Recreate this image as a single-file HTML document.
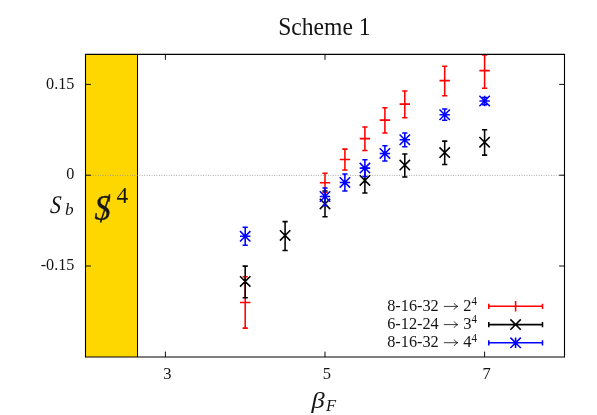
<!DOCTYPE html>
<html><head><meta charset="utf-8"><title>Scheme 1</title>
<style>
html,body{margin:0;padding:0;background:#fff;}
svg{display:block;will-change:transform;}
text{font-family:"Liberation Serif",serif;fill:#141414;}
.i{font-style:italic;}
</style></head><body>
<svg width="597" height="415" viewBox="0 0 597 415">
<rect x="0" y="0" width="597" height="415" fill="#fff"/>
<rect x="85.5" y="54.4" width="52.0" height="302.6" fill="#ffd700"/>
<path d="M137.5 54.4V357.0" stroke="#000" stroke-width="1" fill="none"/>
<path d="M85.5 175.4H564.5" stroke="#8c8c8c" stroke-width="0.8" stroke-dasharray="0.9 1.55" fill="none"/>
<text transform="translate(324.4 35.1) scale(1.0 1.04)" font-size="23.6" text-anchor="middle">Scheme 1</text>
<text transform="translate(74.4 88.5) scale(1.0 1.07)" font-size="16.2" text-anchor="end">0.15</text>
<text transform="translate(74.4 179.3) scale(1.0 1.07)" font-size="16.2" text-anchor="end">0</text>
<text transform="translate(74.4 270.0) scale(1.0 1.07)" font-size="16.2" text-anchor="end">-0.15</text>
<text transform="translate(167.3 379.4) scale(1.0 1.04)" font-size="16.5" text-anchor="middle">3</text>
<text transform="translate(326.9 379.4) scale(1.0 1.04)" font-size="16.5" text-anchor="middle">5</text>
<text transform="translate(486.5 379.4) scale(1.0 1.04)" font-size="16.5" text-anchor="middle">7</text>
<text transform="translate(49.7 212.5) skewX(-5) scale(0.86 1.02)" font-size="25" class="i">S</text>
<text transform="translate(64.9 214.8) scale(1.02 0.93)" font-size="17" class="i">b</text>
<text transform="translate(311.5 408) scale(1.15 1)" font-size="23" class="i">β</text>
<text x="325.9" y="410.5" font-size="16.5" class="i">F</text>
<text transform="translate(94.6 219.6) scale(0.9 1)" font-size="36" class="i" stroke="#1a1a1a" stroke-width="0.35">S</text>
<path d="M109.7 194.2L100.5 222.6" stroke="#1a1a1a" stroke-width="1.6" fill="none"/>
<text transform="translate(116.4 203.4) scale(1.0 0.955)" font-size="23.4">4</text>
<path d="M165.4 357.0V351.6M165.4 54.4V59.8M325.0 357.0V351.6M325.0 54.4V59.8M484.6 357.0V351.6M484.6 54.4V59.8M85.5 84.4H90.9M564.5 84.4H559.1M85.5 175.2H90.9M564.5 175.2H559.1M85.5 266.0H90.9M564.5 266.0H559.1" stroke="#000" stroke-width="0.95" fill="none"/>
<path d="M245.20 276.80V328.10M242.60 276.80H247.80M242.60 328.10H247.80M240.00 302.50H250.40M245.20 297.30V307.70M325.00 173.30V192.40M322.40 173.30H327.60M322.40 192.40H327.60M319.80 182.80H330.20M325.00 177.60V188.00M344.90 149.10V170.00M342.30 149.10H347.50M342.30 170.00H347.50M339.70 159.40H350.10M344.90 154.20V164.60M364.90 126.90V150.40M362.30 126.90H367.50M362.30 150.40H367.50M359.70 138.60H370.10M364.90 133.40V143.80M384.90 107.70V133.00M382.30 107.70H387.50M382.30 133.00H387.50M379.70 120.10H390.10M384.90 114.90V125.30M404.80 90.90V117.70M402.20 90.90H407.40M402.20 117.70H407.40M399.60 104.10H410.00M404.80 98.90V109.30M444.70 66.30V95.80M442.10 66.30H447.30M442.10 95.80H447.30M439.50 80.60H449.90M444.70 75.40V85.80M484.60 55.00V88.15M482.00 55.00H487.20M482.00 88.15H487.20M479.40 70.60H489.80M484.60 65.40V75.80" stroke="#ff0000" stroke-width="1.55" fill="none"/>
<path d="M245.20 266.10V297.80M242.60 266.10H247.80M242.60 297.80H247.80M240.00 276.20L250.40 286.60M240.00 286.60L250.40 276.20M285.10 221.60V250.50M282.50 221.60H287.70M282.50 250.50H287.70M279.90 230.20L290.30 240.60M279.90 240.60L290.30 230.20M325.00 191.00V216.80M322.40 191.00H327.60M322.40 216.80H327.60M319.80 198.70L330.20 209.10M319.80 209.10L330.20 198.70M364.90 167.80V193.00M362.30 167.80H367.50M362.30 193.00H367.50M359.70 175.20L370.10 185.60M359.70 185.60L370.10 175.20M404.80 153.90V177.00M402.20 153.90H407.40M402.20 177.00H407.40M399.60 159.90L410.00 170.30M399.60 170.30L410.00 159.90M444.70 141.10V164.50M442.10 141.10H447.30M442.10 164.50H447.30M439.50 147.40L449.90 157.80M439.50 157.80L449.90 147.40M484.60 129.70V155.10M482.00 129.70H487.20M482.00 155.10H487.20M479.40 137.00L489.80 147.40M479.40 147.40L489.80 137.00" stroke="#000000" stroke-width="1.55" fill="none"/>
<path d="M245.20 227.30V245.30M242.60 227.30H247.80M242.60 245.30H247.80M240.00 236.30H250.40M245.20 231.10V241.50M240.00 231.10L250.40 241.50M240.00 241.50L250.40 231.10M325.00 187.90V205.50M322.40 187.90H327.60M322.40 205.50H327.60M319.80 196.50H330.20M325.00 191.30V201.70M319.80 191.30L330.20 201.70M319.80 201.70L330.20 191.30M344.90 173.90V190.90M342.30 173.90H347.50M342.30 190.90H347.50M339.70 182.40H350.10M344.90 177.20V187.60M339.70 177.20L350.10 187.60M339.70 187.60L350.10 177.20M364.90 159.80V176.40M362.30 159.80H367.50M362.30 176.40H367.50M359.70 168.10H370.10M364.90 162.90V173.30M359.70 162.90L370.10 173.30M359.70 173.30L370.10 162.90M384.90 145.80V161.00M382.30 145.80H387.50M382.30 161.00H387.50M379.70 153.40H390.10M384.90 148.20V158.60M379.70 148.20L390.10 158.60M379.70 158.60L390.10 148.20M404.80 132.95V146.80M402.20 132.95H407.40M402.20 146.80H407.40M399.60 139.75H410.00M404.80 134.55V144.95M399.60 134.55L410.00 144.95M399.60 144.95L410.00 134.55M444.70 108.90V120.20M442.10 108.90H447.30M442.10 120.20H447.30M439.50 114.75H449.90M444.70 109.55V119.95M439.50 109.55L449.90 119.95M439.50 119.95L449.90 109.55M484.60 97.40V104.60M482.00 97.40H487.20M482.00 104.60H487.20M479.40 101.00H489.80M484.60 95.80V106.20M479.40 95.80L489.80 106.20M479.40 106.20L489.80 95.80" stroke="#0000ff" stroke-width="1.55" fill="none"/>
<text transform="translate(387.2 310.6) scale(1.0 1.04)" font-size="16.3">8-16-32</text><path d="M443.8 306.40H457.4M454.1 303.20Q455.2 305.60 457.8 306.40Q455.2 307.20 454.1 309.60" stroke="#1a1a1a" stroke-width="0.85" fill="none"/><text transform="translate(463.3 310.6) scale(1.0 1.04)" font-size="16.5">2</text><text transform="translate(471.5 305.2) scale(1.0 1.04)" font-size="11.0">4</text>
<text transform="translate(387.2 328.8) scale(1.0 1.04)" font-size="16.3">6-12-24</text><path d="M443.8 324.60H457.4M454.1 321.40Q455.2 323.80 457.8 324.60Q455.2 325.40 454.1 327.80" stroke="#1a1a1a" stroke-width="0.85" fill="none"/><text transform="translate(463.3 328.8) scale(1.0 1.04)" font-size="16.5">3</text><text transform="translate(471.5 323.4) scale(1.0 1.04)" font-size="11.0">4</text>
<text transform="translate(387.2 346.9) scale(1.0 1.04)" font-size="16.3">8-16-32</text><path d="M443.8 342.70H457.4M454.1 339.50Q455.2 341.90 457.8 342.70Q455.2 343.50 454.1 345.90" stroke="#1a1a1a" stroke-width="0.85" fill="none"/><text transform="translate(463.3 346.9) scale(1.0 1.04)" font-size="16.5">4</text><text transform="translate(471.5 341.5) scale(1.0 1.04)" font-size="11.0">4</text>
<path d="M488.8 306.3H542.5M488.8 303.70V308.90M542.5 303.70V308.90M510.40 306.30H520.80M515.60 301.10V311.50" stroke="#ff0000" stroke-width="1.55" fill="none"/>
<path d="M488.8 324.6H542.5M488.8 322.00V327.20M542.5 322.00V327.20M510.40 319.40L520.80 329.80M510.40 329.80L520.80 319.40" stroke="#000000" stroke-width="1.55" fill="none"/>
<path d="M488.8 342.8H542.5M488.8 340.20V345.40M542.5 340.20V345.40M510.40 342.80H520.80M515.60 337.60V348.00M510.40 337.60L520.80 348.00M510.40 348.00L520.80 337.60" stroke="#0000ff" stroke-width="1.55" fill="none"/>
<path d="M84.95 54.4H565.05M564.5 54.4V357.3M85.5 54.4V357.3" stroke="#000" stroke-width="1.1" fill="none"/>
<path d="M84.95 357.0H565.05" stroke="#000" stroke-width="1.14" fill="none"/>
</svg>
</body></html>
